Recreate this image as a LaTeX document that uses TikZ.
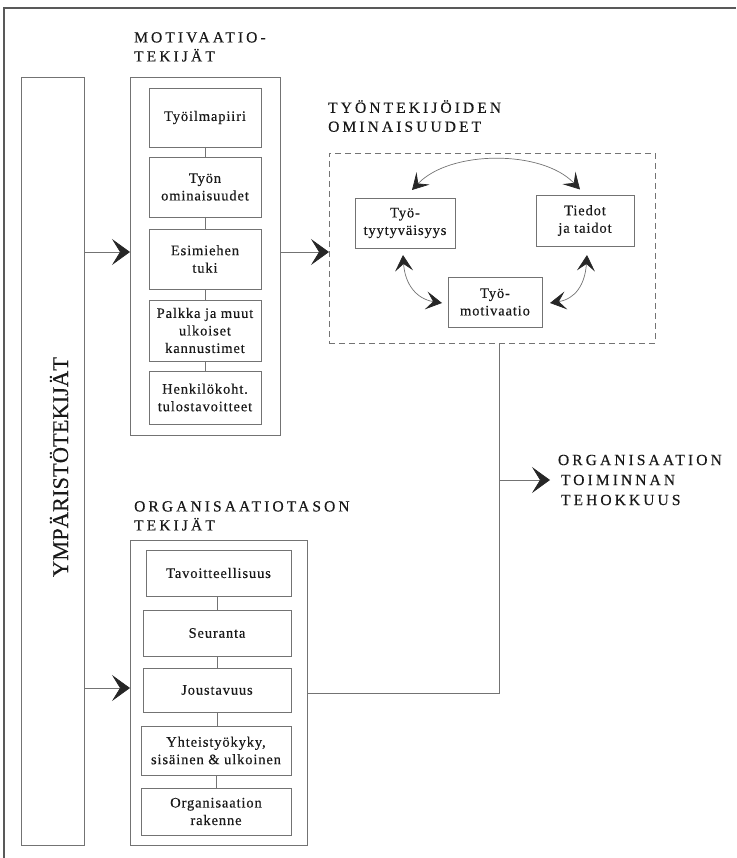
\documentclass[tikz,border=0pt]{standalone}
\usepackage{fontspec}
\setmainfont{Liberation Serif}
\newfontfamily\bodyf[LetterSpace=6,FakeBold=0.35]{Liberation Serif}
\newfontfamily\titlef[LetterSpace=20,FakeBold=0.35]{Liberation Serif}
\newfontfamily\envf[FakeBold=0.2]{Liberation Serif}
\usetikzlibrary{arrows.meta,calc}
\begin{document}
\begin{tikzpicture}[x=1pt,y=-1pt,
  ln/.style={draw=black!55, line width=0.7pt},
  box/.style={ln, rectangle, inner sep=0pt, outer sep=0pt, align=center,
    font=\bodyf\fontsize{14.5}{17.5}\selectfont, text=black!90},
  frame/.style={ln, rectangle, inner sep=0pt, outer sep=0pt},
  ttl/.style={anchor=north west, inner sep=0pt, align=left,
    font=\titlef\fontsize{15.5}{19}\selectfont, text=black!90},
  bigarr/.style={ln, -{Stealth[length=18pt,width=26pt,inset=8pt,color=black!85]}},
  carr/.style={ln, {Stealth[length=16pt,width=18pt,inset=7pt,color=black!85]}-{Stealth[length=16pt,width=18pt,inset=7pt,color=black!85]}}
]
\useasboundingbox (0,0) rectangle (736,858);

% outer partial frame
\draw[draw=black!65, line width=1.3pt] (4,858) -- (4,8) -- (736,8);

% environment column
\node[frame, minimum width=63, minimum height=768] (env) at (52.5,461) {};
\node[rotate=90, anchor=base, inner sep=0pt, font=\envf\fontsize{22.5}{24}\selectfont, text=black!90] (envt) at (68,467) {YMPÄRISTÖTEKIJÄT};

% motivation factors
\node[ttl] (mott) at (134,32) {MOTIVAATIO-\\TEKIJÄT};
\node[frame, minimum width=150, minimum height=358] (motbox) at (205,256) {};
\node[box, minimum width=112, minimum height=59] (m1) at (205,117.5) {Työilmapiiri};
\node[box, minimum width=112, minimum height=60] (m2) at (205,187) {Työn\\ominaisuudet};
\node[box, minimum width=112, minimum height=60] (m3) at (205,259) {Esimiehen\\tuki};
\node[box, minimum width=112, minimum height=61] (m4) at (205,330.5) {Palkka ja muut\\ulkoiset\\kannustimet};
\node[box, minimum width=112, minimum height=53] (m5) at (205,397.5) {Henkilökoht.\\tulostavoitteet};
\draw[ln] (m1.south) -- (m2.north);
\draw[ln] (m2.south) -- (m3.north);
\draw[ln] (m3.south) -- (m4.north);
\draw[ln] (m4.south) -- (m5.north);

% employee characteristics
\node[ttl] (empt) at (328,100) {TYÖNTEKIJÖIDEN\\OMINAISUUDET};
\node[draw=black!55, line width=0.7pt, dash pattern=on 6pt off 4pt, inner sep=0pt, outer sep=0pt,
  minimum width=326, minimum height=190] (emp) at (492,248) {};
\node[box, minimum width=100, minimum height=50] (tyy) at (405,223) {Työ-\\tyytyväisyys};
\node[box, minimum width=98, minimum height=51] (tie) at (585,220.5) {Tiedot\\ja taidot};
\node[box, minimum width=94, minimum height=50] (mot) at (495,302) {Työ-\\motivaatio};
\draw[carr] ($(tyy.north)+(7,-8)$) .. controls +(38,-40) and +(-38,-40) .. ($(tie.north)+(-5,-5.5)$);
\draw[carr] ($(tyy.south)+(-2,7)$) .. controls +(2,30) and +(-25,-4) .. ($(mot.west)+(-6,1)$);
\draw[carr] ($(tie.south)+(2,9)$) .. controls +(-2,30) and +(25,-4) .. ($(mot.east)+(8,1)$);

% organisation-level factors
\node[ttl] (orgt) at (134,501) {ORGANISAATIOTASON\\TEKIJÄT};
\node[frame, minimum width=177, minimum height=305] (orgbox) at (218.5,692.5) {};
\node[box, minimum width=145, minimum height=46] (o1) at (218.5,573) {Tavoitteellisuus};
\node[box, minimum width=148, minimum height=46] (o2) at (217,633) {Seuranta};
\node[box, minimum width=148, minimum height=44] (o3) at (217,690) {Joustavuus};
\node[box, minimum width=150, minimum height=49] (o4) at (216,750.5) {Yhteistyökyky,\\sisäinen \& ulkoinen};
\node[box, minimum width=150, minimum height=47] (o5) at (216,811.5) {Organisaation\\rakenne};
\draw[ln] (o2.north) -- (o2.north |- o1.south);
\draw[ln] (o2.south) -- (o3.north);
\draw[ln] (o3.south) -- (o3.south |- o4.north);
\draw[ln] (o4.south) -- (o5.north);

% result
\node[anchor=west, inner sep=0pt, inner xsep=8pt, outer sep=0pt, align=left,
  font=\titlef\fontsize{15.5}{20}\selectfont, text=black!90] (res) at (550,480)
  {ORGANISAATION\\\hspace*{3pt}TOIMINNAN\\\hspace*{3pt}TEHOKKUUS};
\coordinate (jx) at (499,480);

% connectors
\draw[bigarr] (env.east |- 0,252) -- (motbox.west |- 0,252);
\draw[bigarr] (motbox.east |- 0,252) -- (emp.west |- 0,252);
\draw[bigarr] (env.east |- 0,688) -- (orgbox.west |- 0,688);
\draw[ln] (orgbox.east |- 0,693) -| (emp.south -| jx);
\draw[bigarr] (jx) -- (res.west);
\end{tikzpicture}
\end{document}
